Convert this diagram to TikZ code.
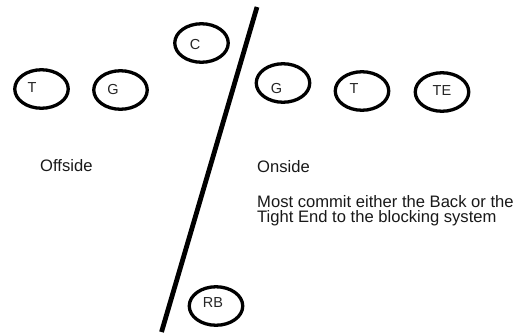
\documentclass[tikz,border=0pt]{standalone}
\usepackage{fontspec}
\setmainfont{Liberation Sans}
\usetikzlibrary{shapes.geometric}
\begin{document}
\begin{tikzpicture}[x=1pt,y=-1pt,
  player/.style={draw=black, ellipse, line width=3.3pt, inner sep=0pt, minimum width=53.5pt, minimum height=38.5pt},
  plabel/.style={font=\fontsize{14.5}{14.5}\selectfont, text=black!85, inner sep=0pt},
  body/.style={font=\fontsize{16.6}{16.6}\selectfont, text=black!90, inner sep=0pt, anchor=base west}]
\useasboundingbox (0,0) rectangle (518,332);
\fill[white] (0,0) rectangle (518,332);
\coordinate (ltop) at (257,7);
\coordinate (lbot) at (161.5,332);
\draw[line width=4.8pt] (ltop) -- (lbot);
\node[player] (C) at (201.5,43) {};
\node[plabel] (Cl) at (195,45) {C};
\node[player] (T1) at (41.5,89) {};
\node[plabel] (T1l) at (32,88) {T};
\node[player] (G1) at (120.5,90) {};
\node[plabel] (G1l) at (113,90) {G};
\node[player] (G2) at (283,83) {};
\node[plabel] (G2l) at (276.5,89) {G};
\node[player] (T2) at (362,91) {};
\node[plabel] (T2l) at (354,89) {T};
\node[player] (TE) at (442,92) {};
\node[plabel] (TEl) at (442,91) {TE};
\node[player] (RB) at (216,306) {};
\node[plabel] (RBl) at (213,302.5) {RB};
\node[body] (off) at (40,171) {Offside};
\node[body] (on) at (257,172) {Onside};
\node[body] (l1) at (257,207) {Most commit either the Back or the};
\node[body] (l2) at (257,222.5) {Tight End to the blocking system};
\end{tikzpicture}
\end{document}
